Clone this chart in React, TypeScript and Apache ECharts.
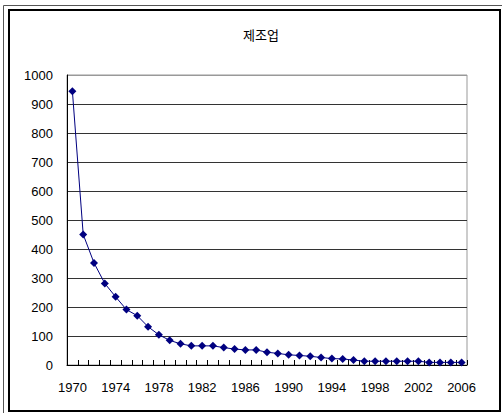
import React, { useEffect, useRef } from "react";
import * as echarts from "echarts";

const years: string[] = [
  "1970", "1971", "1972", "1973", "1974", "1975", "1976", "1977", "1978", "1979",
  "1980", "1981", "1982", "1983", "1984", "1985", "1986", "1987", "1988", "1989",
  "1990", "1991", "1992", "1993", "1994", "1995", "1996", "1997", "1998", "1999",
  "2000", "2001", "2002", "2003", "2004", "2005", "2006",
];

const values: number[] = [
  944, 450, 352, 281, 235, 191, 170, 132, 104, 85,
  73, 66, 66, 66, 60, 55, 52, 52, 44, 40,
  35, 33, 30, 26, 22, 21, 17, 13, 13, 13,
  13, 13, 13, 9, 9, 9, 9,
];

const titleText = "제조업";

export default function App() {
  const ref = useRef<HTMLDivElement>(null);

  useEffect(() => {
    document.body.style.margin = "0";
    if (!ref.current) return;
    const chart = echarts.init(ref.current, null, { renderer: "svg" });
    const font = "'Liberation Sans', Arial, sans-serif";
    chart.setOption({
      animation: false,
      backgroundColor: "#ffffff",
      title: {
        text: titleText,
        left: 256,
        top: 23,
        textAlign: "center",
        textStyle: {
          fontSize: 13,
          fontWeight: "normal",
          color: "#000",
          fontFamily: "'Noto Sans CJK KR', sans-serif",
        },
      },
      graphic: [
        {
          type: "rect",
          shape: { x: 3.5, y: 5.5, width: 510, height: 420 },
          style: { fill: "none", stroke: "#555", lineWidth: 1 },
          silent: true,
        },
        {
          type: "rect",
          shape: { x: 9, y: 10, width: 491, height: 401 },
          style: { fill: "none", stroke: "#000", lineWidth: 2 },
          silent: true,
        },
      ],
      grid: {
        left: 67,
        top: 75,
        width: 400,
        height: 290,
        show: true,
        borderColor: "#999",
        borderWidth: 1,
        backgroundColor: "transparent",
      },
      xAxis: {
        type: "category",
        data: years,
        boundaryGap: true,
        axisLine: { show: true, lineStyle: { color: "#000", width: 1 } },
        axisTick: {
          show: true,
          inside: true,
          length: 5,
          interval: 0,
          lineStyle: { color: "#000" },
        },
        axisLabel: {
          interval: 3,
          margin: 16,
          color: "#000",
          fontSize: 13,
          fontFamily: font,
        },
        splitLine: { show: false },
      },
      yAxis: {
        type: "value",
        min: 0,
        max: 1000,
        interval: 100,
        axisLine: { show: true, lineStyle: { color: "#000", width: 1 } },
        axisTick: { show: false },
        axisLabel: {
          margin: 14,
          color: "#000",
          fontSize: 13,
          fontFamily: font,
          formatter: (v: number) => String(v),
        },
        splitLine: {
          show: true,
          lineStyle: {
            color: ["#333", "#333", "#333", "#333", "#333", "#333", "#333", "#333", "#333", "#333", "#999"],
            width: 1,
          },
        },
      },
      series: [
        {
          type: "line",
          data: values,
          symbol: "diamond",
          symbolSize: 8,
          showAllSymbol: true,
          lineStyle: { color: "#000080", width: 1 },
          itemStyle: { color: "#000080" },
        },
      ],
    });
    return () => chart.dispose();
  }, []);

  return (
    <div
      ref={ref}
      style={{ position: "absolute", left: 0, top: 0, width: 502, height: 413 }}
    />
  );
}
